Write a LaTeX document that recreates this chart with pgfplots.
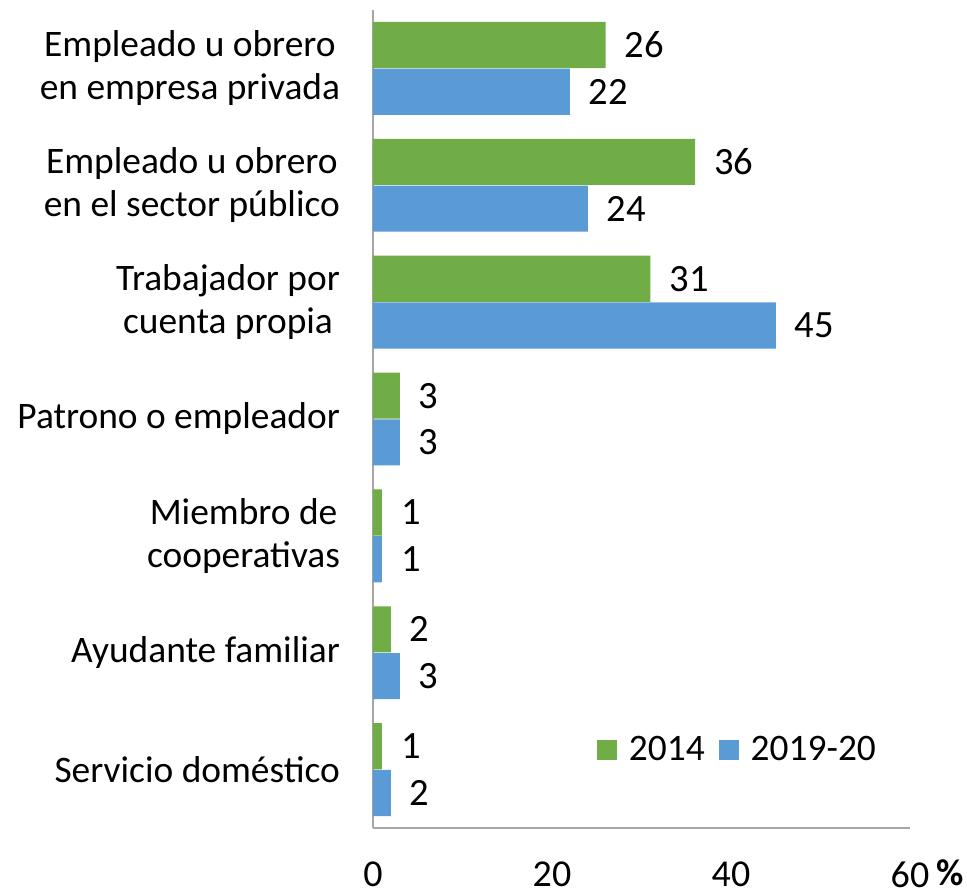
\documentclass[border=0pt]{standalone}
\usepackage{fontspec}
\setmainfont{Carlito}
\usepackage{pgfplots}
\pgfplotsset{compat=1.18}
\definecolor{verde}{HTML}{70AD47}
\definecolor{azul}{HTML}{5B9BD5}

\begin{document}
\begin{tikzpicture}
\begin{axis}[
  xbar,
  width=268.5pt, height=409pt, scale only axis,
  clip=false,
  xmin=0, xmax=60, ymin=-0.5, ymax=6.5,
  xtick={0,20,40,60},
  ytick={0,...,6},
  yticklabels={{Servicio doméstico},{Ayudante familiar},{Miembro de\\cooperativas},{Patrono o empleador},{Trabajador por\\cuenta propia},{Empleado u obrero\\en el sector público},{Empleado u obrero\\en empresa privada}},
  yticklabel style={align=center, font=\fontsize{18.7}{21.5}\selectfont, xshift=-13pt},
  xticklabel style={font=\fontsize{19}{22}\selectfont, yshift=-13.5pt},
  /pgf/number format/assume math mode=true,
  axis x line*=bottom, axis y line*=left,
  axis line style={-, draw=gray!70, line width=0.8pt},
  major tick length=0pt,
  bar width=0.395,
  point meta=x,
  nodes near coords,
  every node near coord/.append style={font=\fontsize{19.3}{22}\selectfont, xshift=6pt, black},
  legend style={at={(0.405,0.095)}, anchor=west, draw=none, fill=none,
    legend columns=2, font=\fontsize{18.7}{22}\selectfont,
    /tikz/every even column/.append style={column sep=5pt}},
  legend image code/.code={\fill[#1] (0pt,-5pt) rectangle (10pt,5pt); \path (14pt,0);},
]
\addplot[bar shift=0.2, fill=verde, draw=none] coordinates
  {(1,0) (2,1) (1,2) (3,3) (31,4) (36,5) (26,6)};
\addplot[bar shift=-0.2, fill=azul, draw=none] coordinates
  {(2,0) (3,1) (1,2) (3,3) (45,4) (24,5) (22,6)};
\legend{2014, 2019-20}
\node[anchor=west, font=\fontsize{18.7}{22}\selectfont\bfseries, inner sep=0pt] at (rel axis cs:1,0) [yshift=-22.5pt, xshift=13pt] {\%};
\end{axis}
\path (-186.5pt,-30.5pt) rectangle (297pt,414pt);
\end{tikzpicture}
\end{document}
